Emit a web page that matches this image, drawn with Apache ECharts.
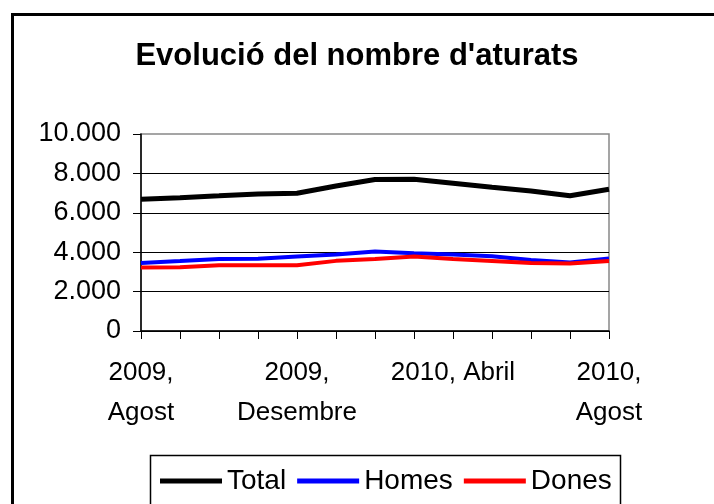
<!DOCTYPE html>
<html>
<head>
<meta charset="utf-8">
<script src="https://cdn.jsdelivr.net/npm/echarts@6/dist/echarts.min.js"></script>
<style>
html, body { margin: 0; padding: 0; background: #fff; }
#main { width: 714px; height: 504px; }
</style>
</head>
<body>
<div id="main"></div>
<script>
var mesos = ['2009,\nAgost', '2009,\nSetembre', '2009,\nOctubre', '2009,\nNovembre', '2009,\nDesembre',
	'2010,\nGener', '2010,\nFebrer', '2010,\nMarç', '2010, Abril', '2010,\nMaig', '2010,\nJuny',
	'2010,\nJuliol', '2010,\nAgost'];
var total = [6690, 6770, 6860, 6960, 6990, 7360, 7690, 7700, 7500, 7300, 7110, 6870, 7200];
var homes = [3450, 3550, 3660, 3670, 3780, 3880, 4030, 3950, 3880, 3800, 3600, 3480, 3680];
var dones = [3220, 3240, 3340, 3340, 3340, 3560, 3660, 3780, 3650, 3550, 3450, 3430, 3550];

var font = '"Liberation Sans", Arial, sans-serif';
var myChart = echarts.init(document.getElementById('main'));

// separador de milers amb punt
function milers(v) {
	return String(v).replace(/\B(?=(\d{3})+(?!\d))/g, '.');
}

var option = {
	backgroundColor: '#fff',
	animation: false,
	title: {
		text: "Evolució del nombre d'aturats",
		left: 'center',
		top: 36,
		textStyle: { fontFamily: font, fontSize: 31, fontWeight: 'bold', color: '#000' }
	},
	graphic: [
		{ type: 'rect', left: 10, top: 12, shape: { width: 800, height: 600 },
			style: { fill: 'none', stroke: '#000', lineWidth: 3 } },
		{ type: 'rect', left: 148, top: 453, shape: { width: 470, height: 100 },
			style: { fill: 'none', stroke: '#000', lineWidth: 1.5 } }
	],
	legend: {
		left: 155,
		top: 462,
		icon: 'rect',
		itemWidth: 62,
		itemHeight: 5,
		itemGap: 11,
		textStyle: { fontFamily: font, fontSize: 28, color: '#000' },
		data: ['Total', 'Homes', 'Dones']
	},
	grid: {
		left: 141, right: 105, top: 134, bottom: 173,
		show: true, borderColor: '#888', borderWidth: 1.5
	},
	xAxis: {
		type: 'category',
		boundaryGap: false,
		data: mesos,
		axisLine: { lineStyle: { color: '#000', width: 1.5 } },
		axisTick: { show: true, interval: 0, length: 8, lineStyle: { color: '#000', width: 1 } },
		axisLabel: { interval: 3, margin: 22, fontFamily: font, fontSize: 26, color: '#000', lineHeight: 40 }
	},
	yAxis: {
		type: 'value',
		min: 0, max: 10000, interval: 2000,
		axisLine: { show: true, lineStyle: { color: '#000', width: 1.5 } },
		axisTick: { show: true, length: 8, lineStyle: { color: '#000', width: 1 } },
		axisLabel: { margin: 20, fontFamily: font, fontSize: 27, color: '#000', formatter: milers },
		splitLine: { show: true, showMaxLine: false, lineStyle: { color: '#000', width: 1 } }
	},
	series: [
		{ name: 'Total', type: 'line', data: total, showSymbol: false, symbol: 'none',
			itemStyle: { color: '#000' }, lineStyle: { color: '#000', width: 5 } },
		{ name: 'Homes', type: 'line', data: homes, showSymbol: false, symbol: 'none',
			itemStyle: { color: '#0000ff' }, lineStyle: { color: '#0000ff', width: 4 } },
		{ name: 'Dones', type: 'line', data: dones, showSymbol: false, symbol: 'none',
			itemStyle: { color: '#ff0000' }, lineStyle: { color: '#ff0000', width: 4 } }
	]
};
myChart.setOption(option);
</script>
</body>
</html>
